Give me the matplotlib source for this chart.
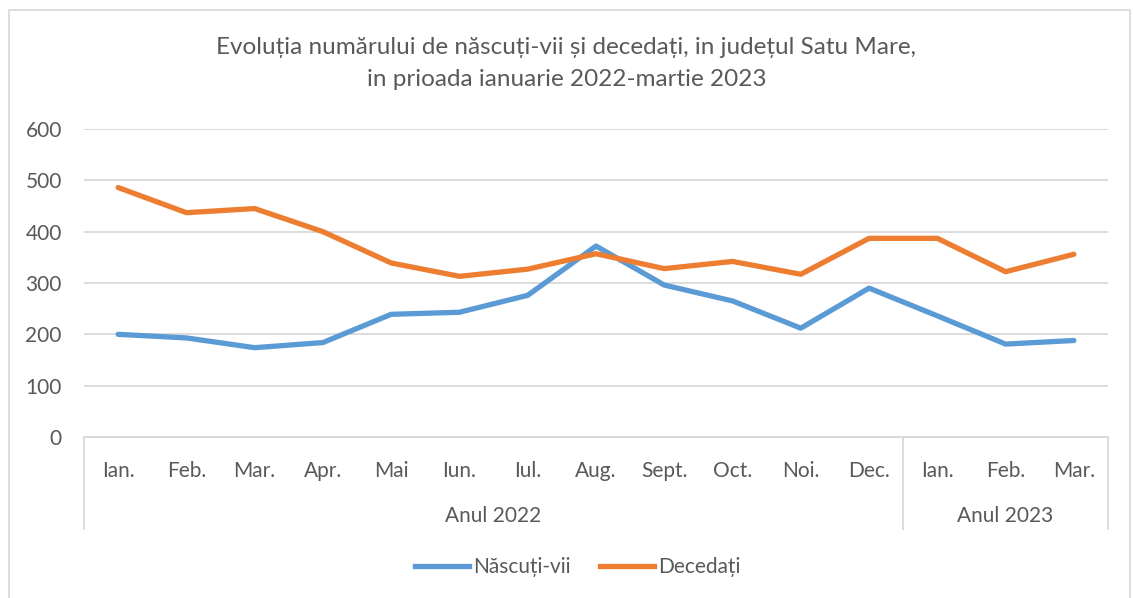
import matplotlib.pyplot as plt
from matplotlib.lines import Line2D

plt.rcParams['font.family'] = ['Lato', 'DejaVu Sans']

months = ["Ian.", "Feb.", "Mar.", "Apr.", "Mai", "Iun.", "Iul.", "Aug.", "Sept.",
          "Oct.", "Noi.", "Dec.", "Ian.", "Feb.", "Mar."]
years = ["Anul 2022", "Anul 2023"]
year_sizes = [12, 3]
nascuti = [200, 193, 174, 184, 239, 243, 276, 372, 296, 265, 212, 290, 236, 181, 188]
decedati = [486, 437, 445, 400, 339, 313, 327, 357, 328, 342, 317, 387, 387, 322, 356]

W, H = 1133, 598
fig = plt.figure(figsize=(W / 100, H / 100), dpi=100)
ax = fig.add_axes([84 / W, 1 - 437 / H, (1108 - 84) / W, (437 - 129) / H])

text_c = "#595959"
grid_c = "#D9D9D9"
fs = 15

x = list(range(len(months)))
ax.plot(x, nascuti, color="#5B9BD5", lw=3.8, solid_capstyle="round", solid_joinstyle="round", zorder=3)
ax.plot(x, decedati, color="#ED7D31", lw=3.8, solid_capstyle="round", solid_joinstyle="round", zorder=3)

ax.set_xlim(-0.5, len(months) - 0.5)
ax.set_ylim(0, 600)
ax.set_yticks(range(0, 601, 100))
ax.yaxis.grid(True, color=grid_c, lw=1.3)
ax.set_axisbelow(True)
for s in ["top", "right", "left"]:
    ax.spines[s].set_visible(False)
ax.spines["bottom"].set_color(grid_c)
ax.spines["bottom"].set_linewidth(1.3)
ax.tick_params(axis="y", length=0, pad=16, labelsize=fs, labelcolor=text_c)
ax.set_xticks(x)
ax.set_xticklabels(months)
ax.tick_params(axis="x", length=0, pad=17, labelsize=fs, labelcolor=text_c)

# year group labels and separators
trans = ax.get_xaxis_transform()
start = -0.5
bounds = [start]
for name, n in zip(years, year_sizes):
    ax.text(start + n / 2, -0.255, name, transform=trans, ha="center", va="center",
            fontsize=fs, color=text_c)
    start += n
    bounds.append(start)
for b in bounds:
    ax.plot([b, b], [0, -0.30], transform=trans, color=grid_c, lw=1.3, clip_on=False)

fig.text(0.5, 1 - 47 / H, "Evoluția numărului de născuți-vii și decedați, in județul Satu Mare,",
         ha="center", va="center", fontsize=17.5, color=text_c)
fig.text(0.5, 1 - 80 / H, "in prioada ianuarie 2022-martie 2023",
         ha="center", va="center", fontsize=17.5, color=text_c)

handles = [Line2D([], [], color="#5B9BD5", lw=3.8), Line2D([], [], color="#ED7D31", lw=3.8)]
fig.legend(handles, ["Născuți-vii", "Decedați"], loc="center", bbox_to_anchor=(0.51, 1 - 567 / H),
           ncol=2, frameon=False, fontsize=fs, labelcolor=text_c, handlelength=2.6,
           handletextpad=0.2, columnspacing=1.4)

# chart area border
fig.add_artist(Line2D([9 / W, 9 / W, 1130 / W, 1130 / W], [0, 1 - 10 / H, 1 - 10 / H, 0],
                      transform=fig.transFigure, color=grid_c, lw=1.3))

fig.savefig("out.png", dpi=100)
